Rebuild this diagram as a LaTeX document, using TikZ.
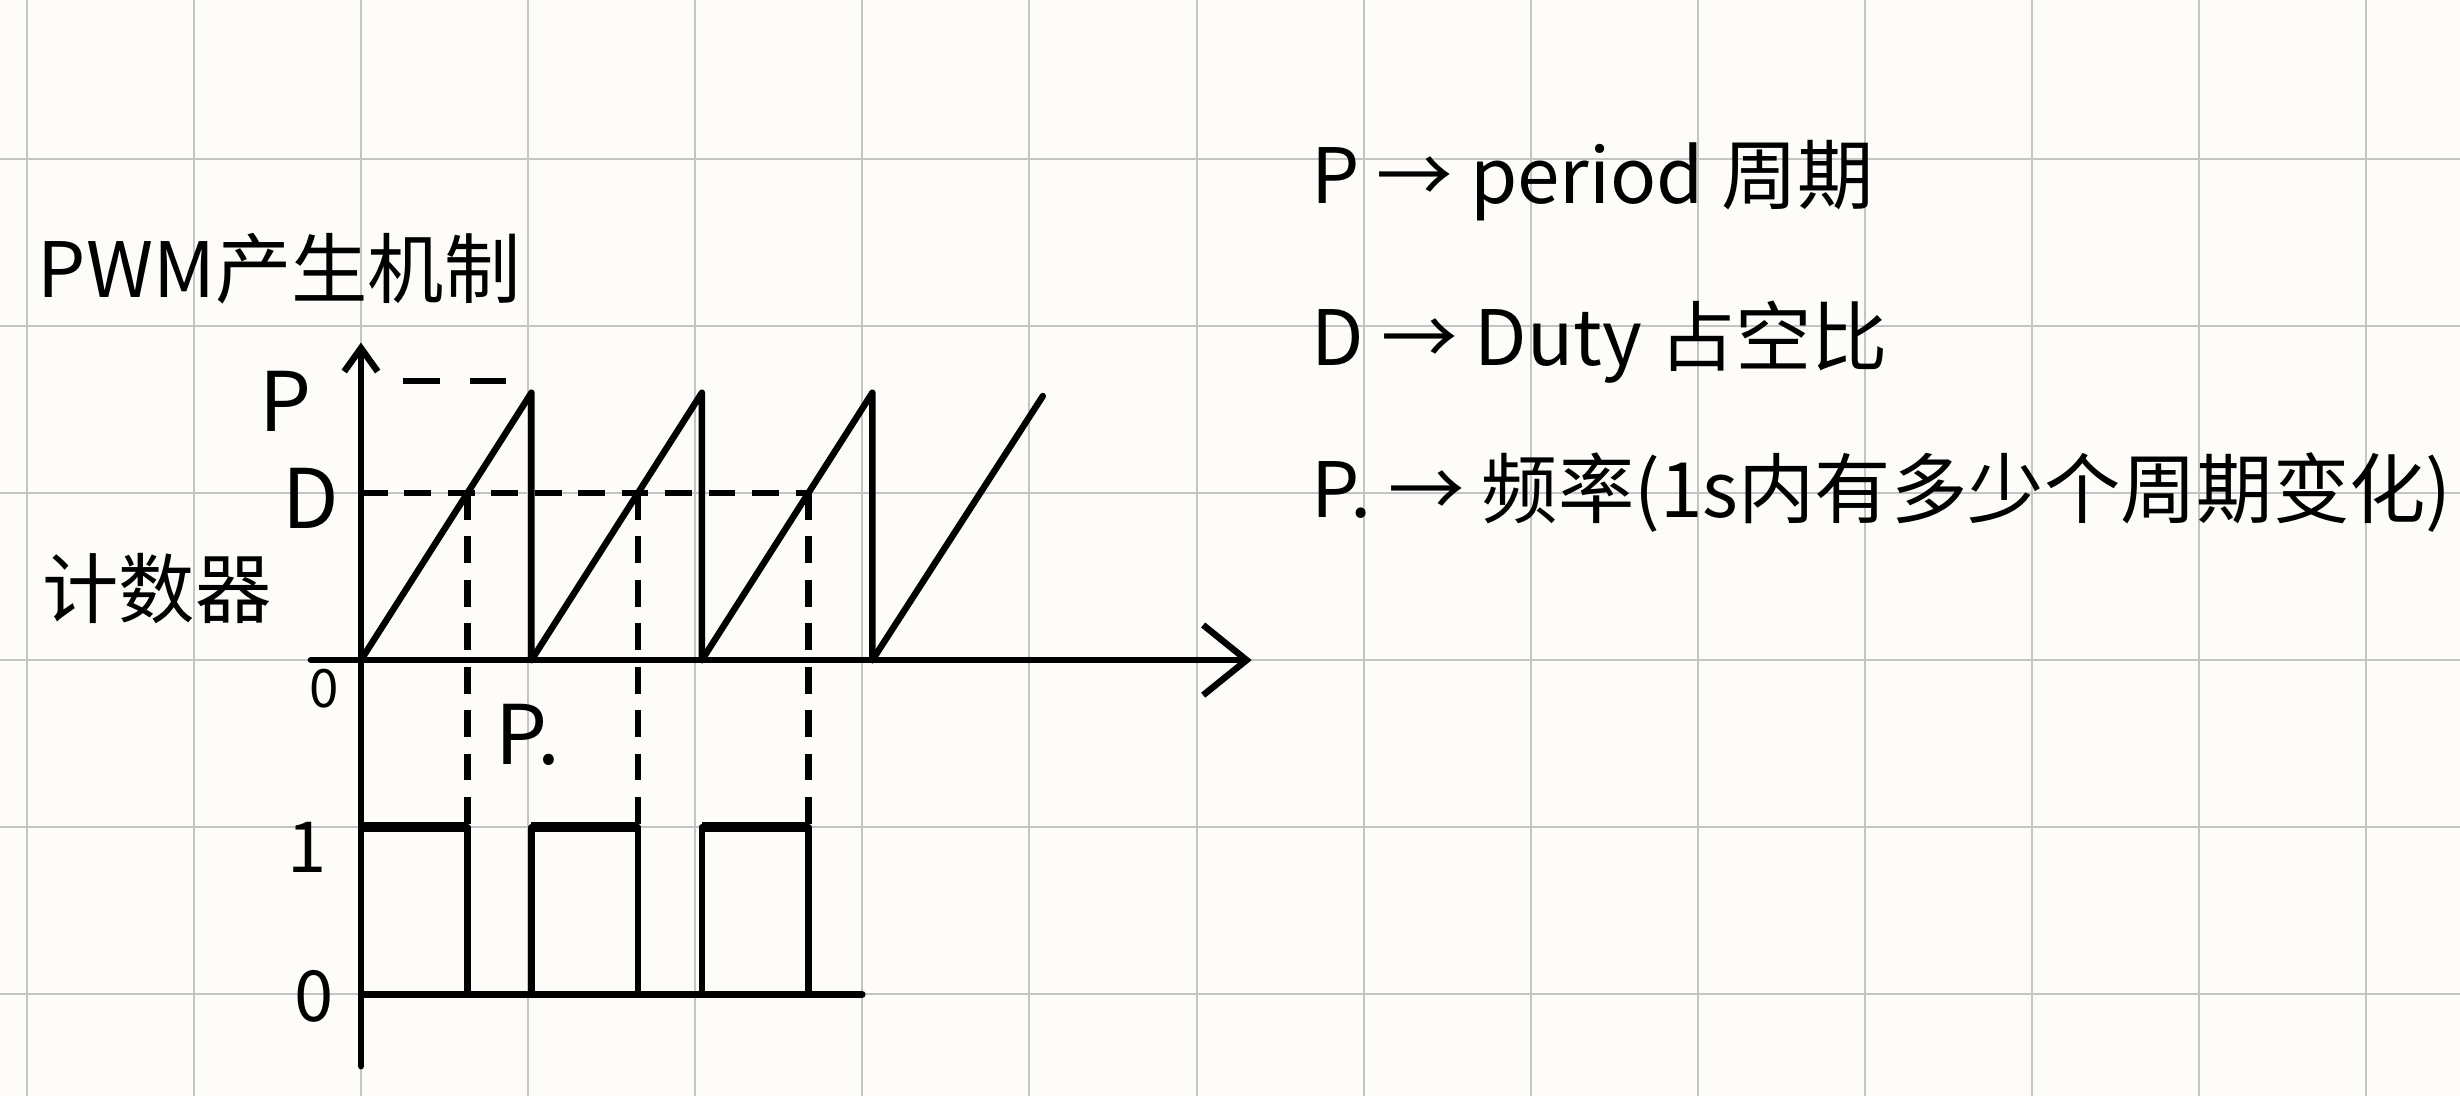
\documentclass[tikz,border=0pt]{standalone}
\usepackage{fontspec}
\setmainfont{Noto Sans CJK SC}
\usetikzlibrary{arrows.meta, positioning}
\definecolor{paper}{RGB}{253,252,248}
\definecolor{gridgray}{RGB}{196,196,196}

\begin{document}
\begin{tikzpicture}[
        gridline/.style={draw=gridgray, line width=0.35pt},
        pen/.style={line width=1.1pt, line cap=round, line join=round},
        dashpen/.style={pen, line cap=butt, dash pattern=on 0.16cm off 0.1cm},
        hand/.style={font=\fontsize{13}{15}\selectfont, inner sep=0pt},
        axlabel/.style={font=\fontsize{14}{16}\selectfont, inner sep=0pt},
        small/.style={font=\fontsize{12}{14}\selectfont, inner sep=0pt}
    ]
        % paper and grid
        \fill[paper] (-2.16,-2.61) rectangle (12.56,3.95);
        \useasboundingbox (-2.16,-2.61) rectangle (12.56,3.95);
        \draw[gridline] (-2.16,-2.61) grid (12.56,3.95);

        % axes
        \coordinate (xstart) at (-0.3,0);
        \coordinate (xend) at (5.33,0);
        \coordinate (ybot) at (0,-2.43);
        \coordinate (ytop) at (0,1.9);
        \draw[pen, -{Straight Barb[length=0.26cm, width=0.42cm, line width=1.1pt]}] (xstart) -- (xend);
        \draw[pen, -{Straight Barb[length=0.14cm, width=0.2cm, line width=1.1pt]}] (ybot) -- (ytop);

        % counter sawtooth
        \foreach \k in {0,1,2} {
            \draw[pen] (\k*1.02,0) -- (\k*1.02+1.02,1.6) -- (\k*1.02+1.02,0);
        }
        \draw[pen] (3.06,0) -- (4.08,1.58);

        % P and D levels
        \coordinate (Plvl) at (0.25,1.67);
        \coordinate (Pend) at (0.9,1.67);
        \draw[pen, line cap=butt, dash pattern=on 0.22cm off 0.18cm] (Plvl) -- (Pend);
        \coordinate (Dlvl) at (0,1);
        \coordinate (Dend) at (2.7,1);
        \draw[dashpen] (Dlvl) -- (Dend);
        \foreach \k in {0,1,2} {
            \draw[dashpen] (\k*1.02+0.6375,1) -- (\k*1.02+0.6375,-1);
        }

        % PWM output
        \foreach \k in {0,1,2} {
            \draw[pen] (\k*1.02,-2) -- (\k*1.02,-1) -- (\k*1.02+0.6375,-1) -- (\k*1.02+0.6375,-2);
            \draw[line width=1.7pt] (\k*1.02,-1) -- (\k*1.02+0.6375,-1);
        }
        \coordinate (lowstart) at (0,-2);
        \coordinate (lowend) at (3.0,-2);
        \draw[pen] (lowstart) -- (lowend);

        % labels
        \node[hand] (title) at (-0.49,2.34) {PWM产生机制};
        \node[hand] (counter) at (-1.22,0.43) {计数器};
        \node[axlabel] (labP) at (-0.45,1.55) {P};
        \node[axlabel] (labD) at (-0.3,0.97) {D};
        \node[font=\fontsize{9}{10}\selectfont, inner sep=0pt] (labO) at (-0.22,-0.17) {0};
        \node[small] (lab1) at (-0.32,-1.12) {1};
        \node[small] (lab0) at (-0.28,-2.01) {0};
        \node[axlabel] (labF) at (1.0,-0.45) {P.};

        % legend
        \node[hand, anchor=west] (lgP) at (5.68,2.87) {P → period 周期};
        \node[hand, below=0.97cm of lgP.west, anchor=west] (lgD) {D → Duty 占空比};
        \node[hand, below=0.9cm of lgD.west, anchor=west] (lgF) {P. → 频率(1s内有多少个周期变化)};
    \end{tikzpicture}
\end{document}
